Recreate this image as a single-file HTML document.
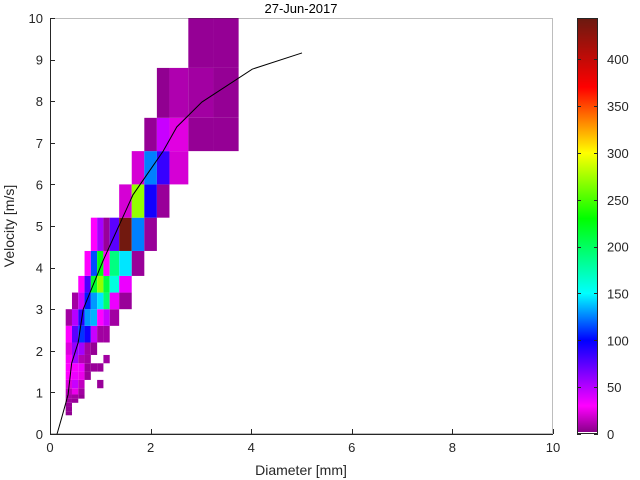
<!DOCTYPE html>
<html><head><meta charset="utf-8"><style>
html,body{margin:0;padding:0;background:#fff;}
svg{display:block;font-family:"Liberation Sans",sans-serif;}
</style></head><body>
<svg id="chart" width="640" height="480" viewBox="0 0 640 480" xmlns="http://www.w3.org/2000/svg">
<rect x="0" y="0" width="640" height="480" fill="#fff"/>
<g id="cells"></g>
<g id="curve"></g>
<g id="axes"></g>
<g id="cbar"></g>
<text x="301" y="13" text-anchor="middle" font-size="13" fill="#000">27-Jun-2017</text>
<text x="301" y="475" text-anchor="middle" font-size="14" fill="#262626">Diameter [mm]</text>
<text x="0" y="0" transform="translate(14,226) rotate(-90)" text-anchor="middle" font-size="14" fill="#262626">Velocity [m/s]</text>
</svg>
<script>
// bin edges (class centers used as pcolor vertices)
const diamEdges = [0.062,0.187,0.312,0.437,0.562,0.687,0.812,0.937,1.062,1.187,1.375,1.625,1.875,2.125,2.375,2.75,3.25,3.75,4.25];
const velEdges = [0.05,0.15,0.25,0.35,0.45,0.55,0.65,0.75,0.85,0.95,1.1,1.3,1.5,1.7,1.9,2.2,2.6,3.0,3.4,3.8,4.4,5.2,6.0,6.8,7.6,8.8,10.4];
// counts[velocity class j] = [[diameter class i, count], ...]
const counts = {
 4:[[2,4]],
 5:[[2,5]],
 6:[[2,6]],
 7:[[2,8],[3,6]],
 8:[[2,10],[3,8],[4,5]],
 9:[[2,14],[3,25],[4,8]],
 10:[[2,22],[3,45],[4,15],[7,6]],
 11:[[2,30],[3,35],[4,25],[5,6]],
 12:[[2,30],[3,32],[4,35],[5,5],[6,6],[7,6]],
 13:[[2,28],[3,55],[4,12],[5,8],[8,8]],
 14:[[2,22],[3,60],[4,55],[5,8],[6,5]],
 15:[[2,30],[3,75],[4,110],[5,95],[6,45],[7,8],[8,8]],
 16:[[2,8],[3,50],[4,90],[5,130],[6,135],[7,30],[8,45],[9,8]],
 17:[[3,8],[4,45],[5,105],[6,130],[7,145],[8,195],[9,35],[10,6]],
 18:[[4,30],[5,80],[6,215],[7,270],[8,210],[9,160],[10,35]],
 19:[[5,30],[6,115],[7,225],[8,30],[9,190],[10,145],[11,6]],
 20:[[6,30],[7,55],[8,6],[9,75],[10,440],[11,125],[12,6]],
 21:[[10,20],[11,270],[12,95],[13,6]],
 22:[[11,20],[12,125],[13,85],[14,20]],
 23:[[12,5],[13,45],[14,23],[15,5],[16,5]],
 24:[[13,4],[14,11],[15,8],[16,5]],
 25:[[15,5],[16,5]]
};
const lineD = [0.14,0.23,0.36,0.43,0.56,0.66,1.06,1.65,2.25,2.52,3.02,4.02,5.01];
const lineV = [0,0.38,0.95,1.7,2.2,3.0,4.18,5.75,6.8,7.38,7.98,8.77,9.16];
const xTicks = [0,2,4,6,8,10];
const yTicks = [0,1,2,3,4,5,6,7,8,9,10];
const cTicks = [0,50,100,150,200,250,300,350,400];
const cMax = 444;

const NS="http://www.w3.org/2000/svg";
const X0=50,X1=553,Y0=434,Y1=18;
const sx=d=>X0+(d/10)*(X1-X0);
const sy=v=>Y0-(v/10)*(Y0-Y1);
const CB0=434,CB1=18;
const sc=c=>CB0-(c/cMax)*(CB0-CB1);
const stops=[[0,[128,0,128]],[30,[255,0,255]],[100,[0,0,255]],[150,[0,255,255]],[230,[0,255,0]],[300,[255,255,0]],[370,[255,0,0]],[444,[106,26,16]]];
function cmap(v){
  v=Math.max(0,Math.min(cMax,v));
  for(let k=0;k<stops.length-1;k++){
    const [a,ca]=stops[k],[b,cb]=stops[k+1];
    if(v<=b){const t=(v-a)/(b-a);return 'rgb('+ca.map((c,n)=>Math.round(c+(cb[n]-c)*t)).join(',')+')';}
  }
  return 'rgb(106,26,16)';
}
function mk(tag,attrs,parent){const e=document.createElementNS(NS,tag);for(const k in attrs)e.setAttribute(k,attrs[k]);parent.appendChild(e);return e;}

const gC=document.getElementById('cells');
for(const j in counts){
  const jj=+j;
  counts[j].forEach(([i,c])=>{
    const x=sx(diamEdges[i]),x2=sx(diamEdges[i+1]);
    const yTop=Math.max(Y1,sy(velEdges[jj+1])),yB=sy(velEdges[jj]);
    const r=mk('rect',{x:x,y:yTop,width:x2-x,height:yB-yTop,fill:cmap(c)},gC);
    
    
  });
}
// curve
const gL=document.getElementById('curve');
const p=mk('polyline',{points:lineD.map((d,k)=>sx(d)+','+sy(lineV[k])).join(' '),fill:'none',stroke:'#000','stroke-width':1},gL);



// axes
const gA=document.getElementById('axes');
const box=mk('rect',{x:X0+0.5,y:Y1+0.5,width:X1-X0-1,height:Y0-Y1-1,fill:'none',stroke:'#262626','stroke-width':1,'stroke-opacity':0.3},gA);


const xa=mk('line',{x1:X0,y1:Y0+0.5,x2:X1,y2:Y0+0.5,stroke:'#262626'},gA);


const ya=mk('line',{x1:X0+0.5,y1:Y1,x2:X0+0.5,y2:Y0,stroke:'#262626'},gA);


xTicks.forEach(t=>{
  const x=Math.round(sx(t))+0.5;
  const l=mk('line',{x1:x,y1:Y0,x2:x,y2:Y0-5,stroke:'#262626'},gA);
  
  
  const tx=mk('text',{x:sx(t),y:Y0+18,'text-anchor':'middle','font-size':13,fill:'#262626'},gA);
  tx.textContent=t;
  
  
});
yTicks.forEach(t=>{
  const y=Math.round(sy(t))+0.5;
  const l=mk('line',{x1:X0,y1:y,x2:X0+5,y2:y,stroke:'#262626'},gA);
  
  
  const tx=mk('text',{x:X0-7,y:sy(t)+5,'text-anchor':'end','font-size':13,fill:'#262626'},gA);
  tx.textContent=t;
  
  
});
// colorbar
const gB=document.getElementById('cbar');
const CX=577,CW=21;
for(let py=CB1;py<CB0;py++){
  const v=(CB0-py-0.5)/(CB0-CB1)*cMax;
  const r=mk('rect',{x:CX,y:py,width:CW,height:1.05,fill:v<2?'#fff':cmap(v)},gB);
  
  
}
const cf=mk('rect',{x:CX+0.5,y:CB1+0.5,width:CW-1,height:CB0-CB1-1,fill:'none',stroke:'#262626'},gB);


cTicks.forEach(t=>{
  const y=Math.round(sc(t))+0.5;
  const l=mk('line',{x1:CX+CW-4,y1:y,x2:CX+CW,y2:y,stroke:'#262626'},gB);
  
  
  const l2=mk('line',{x1:CX,y1:y,x2:CX+4,y2:y,stroke:'#262626'},gB);
  
  
  const tx=mk('text',{x:CX+CW+9,y:sc(t)+5,'font-size':13,fill:'#262626'},gB);
  tx.textContent=t;
  
  
});
</script>
</body></html>
